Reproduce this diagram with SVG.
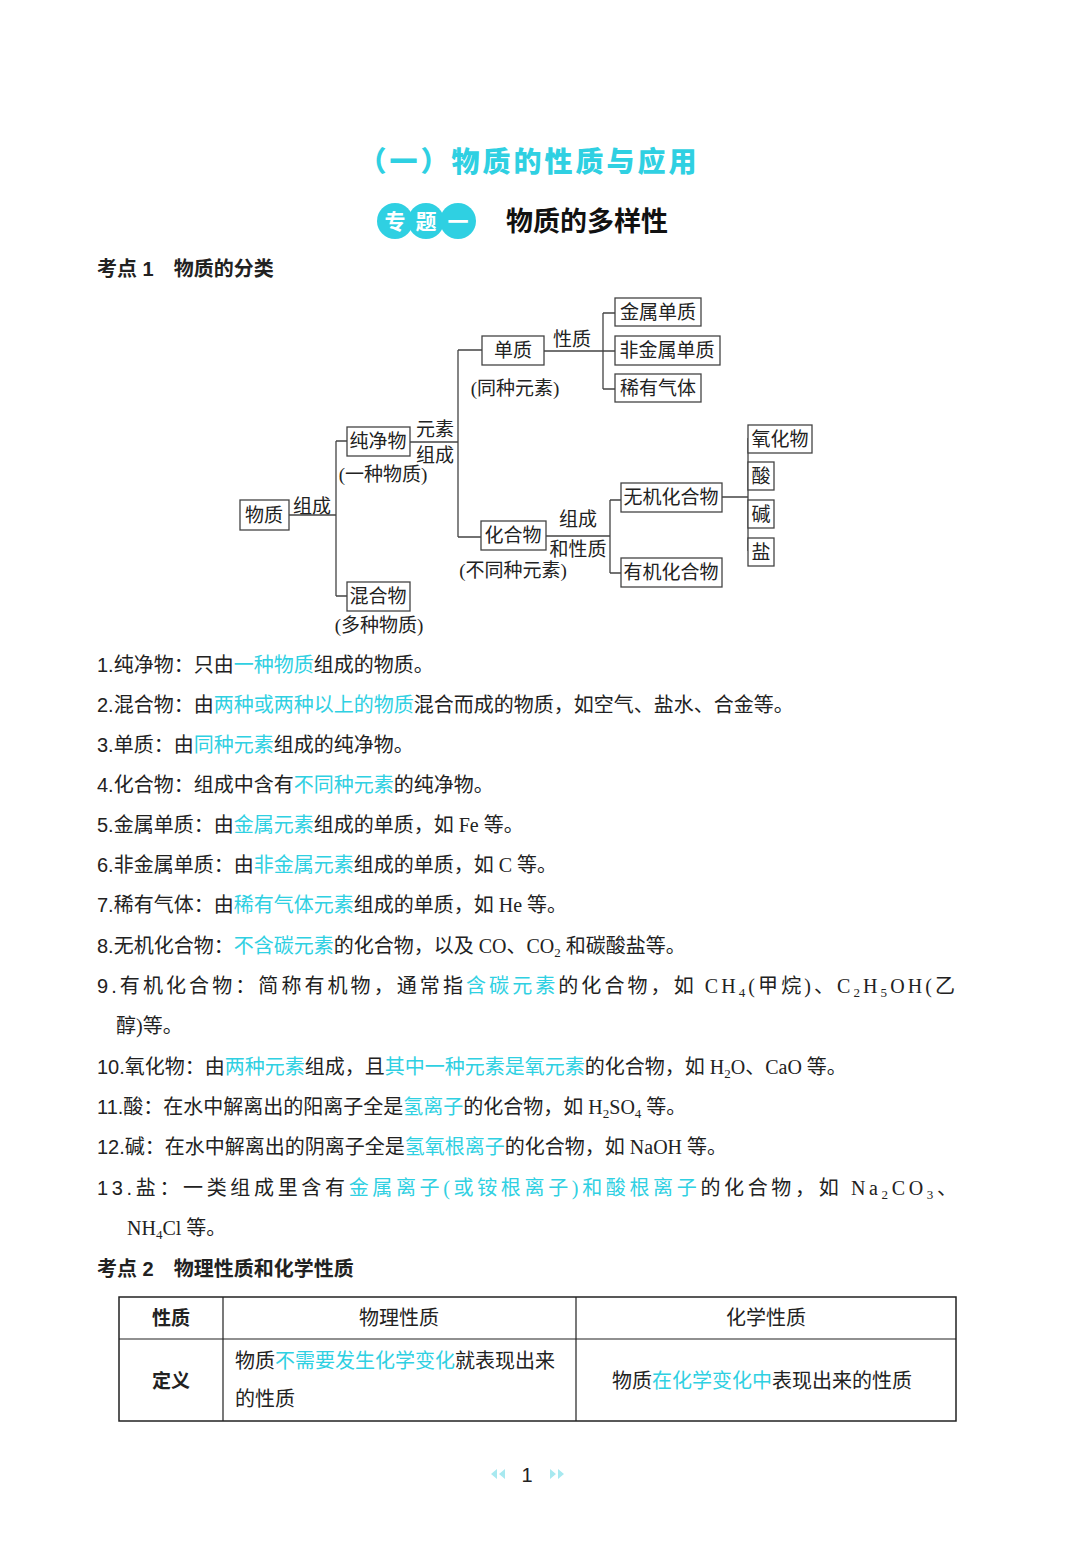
<svg xmlns="http://www.w3.org/2000/svg" width="1080" height="1563" viewBox="0 0 1080 1563">
<style>
text{font-family:"Liberation Serif","Noto Sans CJK SC",serif;fill:#222}
.t{font-size:20px}
.b{font-size:19px}
.c{fill:#2fd0e2}
.n{font-family:"Liberation Sans","Noto Sans CJK SC",sans-serif;font-size:20px}
.h{font-family:"Liberation Sans","Noto Sans CJK SC",sans-serif;font-size:20px;font-weight:bold}
.box{fill:#fff;stroke:#444;stroke-width:1.3}
.ln{stroke:#444;stroke-width:1.3;fill:none}
.s{font-size:13px}
</style>
<rect width="1080" height="1563" fill="#fff"/>
<text x="529" y="172" text-anchor="middle" style="font-family:'Noto Sans CJK SC',sans-serif;font-size:28px;font-weight:900;fill:#2fd0e2;letter-spacing:3px">（一）物质的性质与应用</text>
<g id="badge">
<circle cx="395" cy="221" r="18" fill="#2fd0e2"/><circle cx="426" cy="221" r="18" fill="#2fd0e2"/><circle cx="458" cy="221" r="18" fill="#2fd0e2"/>
<text x="395" y="229" text-anchor="middle" style="font-family:'Noto Sans CJK SC',sans-serif;font-size:21px;font-weight:bold;fill:#fff">专</text>
<text x="426" y="229" text-anchor="middle" style="font-family:'Noto Sans CJK SC',sans-serif;font-size:21px;font-weight:bold;fill:#fff">题</text>
<text x="458" y="229" text-anchor="middle" style="font-family:'Noto Sans CJK SC',sans-serif;font-size:21px;font-weight:bold;fill:#fff">一</text>
</g>
<text x="506" y="231" style="font-family:'Noto Sans CJK SC',sans-serif;font-size:27px;font-weight:bold;fill:#111">物质的多样性</text>
<text x="97" y="276" class="h">考点 1　物质的分类</text>

<g id="connectors">
<path class="ln" d="M289 515H336M336 441V596M336 441H347M336 596H347"/>
<path class="ln" d="M410 442H458M458 350V537M458 350H482M458 537H481"/>
<path class="ln" d="M544 351H603M603 313V389M603 313H615M603 351H615M603 389H615"/>
<path class="ln" d="M546 536H610M610 500V573M610 500H621M610 573H621"/>
<path class="ln" d="M722 497H748M748 438V551M748 438H756M748 476H756M748 514H756M748 551H756"/>
</g>
<g class="b">
<text x="312" y="513" text-anchor="middle">组成</text>
<text x="435" y="436" text-anchor="middle">元素</text>
<text x="435" y="462" text-anchor="middle">组成</text>
<text x="572" y="346" text-anchor="middle">性质</text>
<text x="578" y="526" text-anchor="middle">组成</text>
<text x="578" y="556" text-anchor="middle">和性质</text>
</g>
<g id="n-wuzhi"><rect class="box" x="240" y="500" width="49" height="30"/><text class="b" x="264" y="522" text-anchor="middle">物质</text></g>
<g id="n-chunjing"><rect class="box" x="347" y="427" width="63" height="29"/><text class="b" x="378" y="448" text-anchor="middle">纯净物</text><text class="b" x="383" y="481" text-anchor="middle">(一种物质)</text></g>
<g id="n-hunhe"><rect class="box" x="347" y="582" width="63" height="29"/><text class="b" x="378" y="603" text-anchor="middle">混合物</text><text class="b" x="379" y="632" text-anchor="middle">(多种物质)</text></g>
<g id="n-danzhi"><rect class="box" x="482" y="336" width="62" height="29"/><text class="b" x="513" y="357" text-anchor="middle">单质</text><text class="b" x="515" y="395" text-anchor="middle">(同种元素)</text></g>
<g id="n-huahe"><rect class="box" x="481" y="521" width="65" height="29"/><text class="b" x="513" y="542" text-anchor="middle">化合物</text><text class="b" x="513" y="577" text-anchor="middle">(不同种元素)</text></g>
<g id="n-jinshu"><rect class="box" x="615" y="298" width="86" height="28"/><text class="b" x="658" y="319" text-anchor="middle">金属单质</text></g>
<g id="n-feijinshu"><rect class="box" x="615" y="336" width="105" height="29"/><text class="b" x="667" y="357" text-anchor="middle">非金属单质</text></g>
<g id="n-xiyou"><rect class="box" x="615" y="374" width="86" height="28"/><text class="b" x="658" y="395" text-anchor="middle">稀有气体</text></g>
<g id="n-wuji"><rect class="box" x="621" y="483" width="101" height="29"/><text class="b" x="671" y="504" text-anchor="middle">无机化合物</text></g>
<g id="n-youji"><rect class="box" x="621" y="558" width="101" height="29"/><text class="b" x="671" y="579" text-anchor="middle">有机化合物</text></g>
<g id="n-yanghua"><rect class="box" x="748" y="425" width="64" height="28"/><text class="b" x="780" y="446" text-anchor="middle">氧化物</text></g>
<g id="n-suan"><rect class="box" x="748" y="462" width="26" height="28"/><text class="b" x="761" y="483" text-anchor="middle">酸</text></g>
<g id="n-jian"><rect class="box" x="748" y="500" width="26" height="28"/><text class="b" x="761" y="521" text-anchor="middle">碱</text></g>
<g id="n-yan"><rect class="box" x="748" y="538" width="26" height="28"/><text class="b" x="761" y="559" text-anchor="middle">盐</text></g>

<g class="t">
<text x="97" y="672"><tspan class="n">1.</tspan>纯净物：只由<tspan class="c">一种物质</tspan>组成的物质。</text>
<text x="97" y="712"><tspan class="n">2.</tspan>混合物：由<tspan class="c">两种或两种以上的物质</tspan>混合而成的物质，如空气、盐水、合金等。</text>
<text x="97" y="752"><tspan class="n">3.</tspan>单质：由<tspan class="c">同种元素</tspan>组成的纯净物。</text>
<text x="97" y="792"><tspan class="n">4.</tspan>化合物：组成中含有<tspan class="c">不同种元素</tspan>的纯净物。</text>
<text x="97" y="832"><tspan class="n">5.</tspan>金属单质：由<tspan class="c">金属元素</tspan>组成的单质，如 Fe 等。</text>
<text x="97" y="872"><tspan class="n">6.</tspan>非金属单质：由<tspan class="c">非金属元素</tspan>组成的单质，如 C 等。</text>
<text x="97" y="912"><tspan class="n">7.</tspan>稀有气体：由<tspan class="c">稀有气体元素</tspan>组成的单质，如 He 等。</text>
<text x="97" y="953"><tspan class="n">8.</tspan>无机化合物：<tspan class="c">不含碳元素</tspan>的化合物，以及 CO、CO<tspan class="s" dy="4">2</tspan><tspan dy="-4"> 和碳酸盐等。</tspan></text>
<text x="97" y="993" textLength="858" lengthAdjust="spacing"><tspan class="n">9.</tspan>有机化合物：简称有机物，通常指<tspan class="c">含碳元素</tspan>的化合物，如 CH<tspan class="s" dy="4">4</tspan><tspan dy="-4">(甲烷)、C</tspan><tspan class="s" dy="4">2</tspan><tspan dy="-4">H</tspan><tspan class="s" dy="4">5</tspan><tspan dy="-4">OH(乙</tspan></text>
<text x="116" y="1033">醇)等。</text>
<text x="97" y="1074"><tspan class="n">10.</tspan>氧化物：由<tspan class="c">两种元素</tspan>组成，且<tspan class="c">其中一种元素是氧元素</tspan>的化合物，如 H<tspan class="s" dy="4">2</tspan><tspan dy="-4">O、CaO 等。</tspan></text>
<text x="97" y="1114"><tspan class="n">11.</tspan>酸：在水中解离出的阳离子全是<tspan class="c">氢离子</tspan>的化合物，如 H<tspan class="s" dy="4">2</tspan><tspan dy="-4">SO</tspan><tspan class="s" dy="4">4</tspan><tspan dy="-4"> 等。</tspan></text>
<text x="97" y="1154"><tspan class="n">12.</tspan>碱：在水中解离出的阴离子全是<tspan class="c">氢氧根离子</tspan>的化合物，如 NaOH 等。</text>
<text x="97" y="1195" textLength="860" lengthAdjust="spacing"><tspan class="n">13.</tspan>盐：一类组成里含有<tspan class="c">金属离子(或铵根离子)和酸根离子</tspan>的化合物，如 Na<tspan class="s" dy="4">2</tspan><tspan dy="-4">CO</tspan><tspan class="s" dy="4">3</tspan><tspan dy="-4">、</tspan></text>
<text x="127" y="1235">NH<tspan class="s" dy="4">4</tspan><tspan dy="-4">Cl 等。</tspan></text>
</g>
<text x="97" y="1276" class="h">考点 2　物理性质和化学性质</text>

<g id="table">
<rect x="119" y="1297" width="837" height="124" fill="none" stroke="#222" stroke-width="1.5"/>
<path d="M119 1339H956M223 1297V1421M576 1297V1421" stroke="#222" stroke-width="1.2"/>
<text x="171" y="1325" text-anchor="middle" class="h" style="font-size:19px">性质</text>
<text x="399" y="1325" text-anchor="middle" class="t">物理性质</text>
<text x="766" y="1325" text-anchor="middle" class="t">化学性质</text>
<text x="171" y="1388" text-anchor="middle" class="h" style="font-size:19px">定义</text>
<text x="235" y="1368" class="t">物质<tspan class="c">不需要发生化学变化</tspan>就表现出来</text>
<text x="235" y="1406" class="t">的性质</text>
<text x="612" y="1388" class="t">物质<tspan class="c">在化学变化中</tspan>表现出来的性质</text>
</g>
<g id="pagenum">
<path d="M505 1469l-6 5 6 5zM497 1469l-6 5 6 5z" fill="#a8e9f0"/>
<path d="M550 1469l6 5-6 5zM558 1469l6 5-6 5z" fill="#a8e9f0"/>
<text x="527" y="1482" text-anchor="middle" class="n">1</text>
</g>
</svg>
